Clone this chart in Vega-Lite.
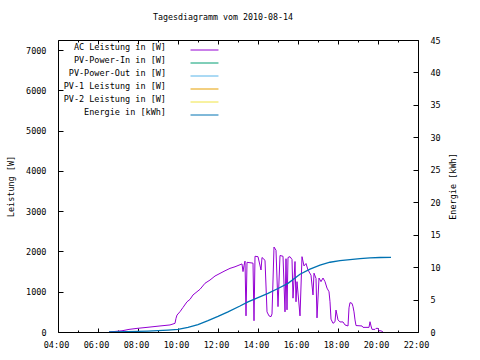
{
  "$schema": "https://vega.github.io/schema/vega-lite/v6.json",
  "width": 360,
  "height": 292,
  "autosize": "none",
  "padding": {"left": 58, "top": 40, "right": 62, "bottom": 28},
  "background": "white",
  "config": {
    "view": {"stroke": "black", "strokeWidth": 1},
    "font": "DejaVu Sans Mono",
    "axis": {"labelFont": "DejaVu Sans Mono", "labelFontSize": 8.5, "labelColor": "black", "titleFont": "DejaVu Sans Mono", "titleFontSize": 8.5, "titleFontWeight": "normal", "titleColor": "black", "ticks": true, "tickColor": "#000000", "tickWidth": 1, "tickOpacity": 1, "zindex": 1, "domain": false, "grid": false, "labelOverlap": false}
  },
  "title": {"text": "Tagesdiagramm vom 2010-08-14", "font": "DejaVu Sans Mono", "fontSize": 8.3, "fontWeight": "normal", "color": "black", "anchor": "middle", "frame": "group", "dx": -15, "offset": 8, "baseline": "alphabetic"},
  "data": {"values": [
    {"zeit": "2010-08-14T06:33", "serie": "AC Leistung in [W]", "wert": 0},
    {"zeit": "2010-08-14T07:12", "serie": "AC Leistung in [W]", "wert": 30},
    {"zeit": "2010-08-14T07:33", "serie": "AC Leistung in [W]", "wert": 65},
    {"zeit": "2010-08-14T07:57", "serie": "AC Leistung in [W]", "wert": 90},
    {"zeit": "2010-08-14T08:27", "serie": "AC Leistung in [W]", "wert": 115},
    {"zeit": "2010-08-14T09:06", "serie": "AC Leistung in [W]", "wert": 150},
    {"zeit": "2010-08-14T09:36", "serie": "AC Leistung in [W]", "wert": 175},
    {"zeit": "2010-08-14T09:51", "serie": "AC Leistung in [W]", "wert": 215},
    {"zeit": "2010-08-14T09:54", "serie": "AC Leistung in [W]", "wert": 340},
    {"zeit": "2010-08-14T09:57", "serie": "AC Leistung in [W]", "wert": 420},
    {"zeit": "2010-08-14T10:06", "serie": "AC Leistung in [W]", "wert": 505},
    {"zeit": "2010-08-14T10:15", "serie": "AC Leistung in [W]", "wert": 610},
    {"zeit": "2010-08-14T10:27", "serie": "AC Leistung in [W]", "wert": 750},
    {"zeit": "2010-08-14T10:36", "serie": "AC Leistung in [W]", "wert": 810},
    {"zeit": "2010-08-14T10:45", "serie": "AC Leistung in [W]", "wert": 920},
    {"zeit": "2010-08-14T10:57", "serie": "AC Leistung in [W]", "wert": 1000},
    {"zeit": "2010-08-14T11:06", "serie": "AC Leistung in [W]", "wert": 1060},
    {"zeit": "2010-08-14T11:21", "serie": "AC Leistung in [W]", "wert": 1210},
    {"zeit": "2010-08-14T11:36", "serie": "AC Leistung in [W]", "wert": 1290},
    {"zeit": "2010-08-14T11:51", "serie": "AC Leistung in [W]", "wert": 1390},
    {"zeit": "2010-08-14T12:06", "serie": "AC Leistung in [W]", "wert": 1455},
    {"zeit": "2010-08-14T12:21", "serie": "AC Leistung in [W]", "wert": 1520},
    {"zeit": "2010-08-14T12:36", "serie": "AC Leistung in [W]", "wert": 1580},
    {"zeit": "2010-08-14T12:51", "serie": "AC Leistung in [W]", "wert": 1620},
    {"zeit": "2010-08-14T13:06", "serie": "AC Leistung in [W]", "wert": 1670},
    {"zeit": "2010-08-14T13:12", "serie": "AC Leistung in [W]", "wert": 1690},
    {"zeit": "2010-08-14T13:15", "serie": "AC Leistung in [W]", "wert": 1500},
    {"zeit": "2010-08-14T13:18", "serie": "AC Leistung in [W]", "wert": 1650},
    {"zeit": "2010-08-14T13:21", "serie": "AC Leistung in [W]", "wert": 1760},
    {"zeit": "2010-08-14T13:24", "serie": "AC Leistung in [W]", "wert": 400},
    {"zeit": "2010-08-14T13:27", "serie": "AC Leistung in [W]", "wert": 1730},
    {"zeit": "2010-08-14T13:36", "serie": "AC Leistung in [W]", "wert": 1720},
    {"zeit": "2010-08-14T13:45", "serie": "AC Leistung in [W]", "wert": 1710},
    {"zeit": "2010-08-14T13:48", "serie": "AC Leistung in [W]", "wert": 280},
    {"zeit": "2010-08-14T13:51", "serie": "AC Leistung in [W]", "wert": 1880},
    {"zeit": "2010-08-14T14:00", "serie": "AC Leistung in [W]", "wert": 1870},
    {"zeit": "2010-08-14T14:09", "serie": "AC Leistung in [W]", "wert": 1540},
    {"zeit": "2010-08-14T14:12", "serie": "AC Leistung in [W]", "wert": 1850},
    {"zeit": "2010-08-14T14:21", "serie": "AC Leistung in [W]", "wert": 1780},
    {"zeit": "2010-08-14T14:27", "serie": "AC Leistung in [W]", "wert": 500},
    {"zeit": "2010-08-14T14:33", "serie": "AC Leistung in [W]", "wert": 400},
    {"zeit": "2010-08-14T14:39", "serie": "AC Leistung in [W]", "wert": 380},
    {"zeit": "2010-08-14T14:42", "serie": "AC Leistung in [W]", "wert": 450},
    {"zeit": "2010-08-14T14:48", "serie": "AC Leistung in [W]", "wert": 2110},
    {"zeit": "2010-08-14T14:54", "serie": "AC Leistung in [W]", "wert": 2030},
    {"zeit": "2010-08-14T15:00", "serie": "AC Leistung in [W]", "wert": 630},
    {"zeit": "2010-08-14T15:06", "serie": "AC Leistung in [W]", "wert": 1900},
    {"zeit": "2010-08-14T15:15", "serie": "AC Leistung in [W]", "wert": 1880},
    {"zeit": "2010-08-14T15:21", "serie": "AC Leistung in [W]", "wert": 500},
    {"zeit": "2010-08-14T15:24", "serie": "AC Leistung in [W]", "wert": 1820},
    {"zeit": "2010-08-14T15:27", "serie": "AC Leistung in [W]", "wert": 550},
    {"zeit": "2010-08-14T15:30", "serie": "AC Leistung in [W]", "wert": 1850},
    {"zeit": "2010-08-14T15:36", "serie": "AC Leistung in [W]", "wert": 1870},
    {"zeit": "2010-08-14T15:42", "serie": "AC Leistung in [W]", "wert": 1800},
    {"zeit": "2010-08-14T15:45", "serie": "AC Leistung in [W]", "wert": 840},
    {"zeit": "2010-08-14T15:51", "serie": "AC Leistung in [W]", "wert": 1750},
    {"zeit": "2010-08-14T15:54", "serie": "AC Leistung in [W]", "wert": 750},
    {"zeit": "2010-08-14T15:57", "serie": "AC Leistung in [W]", "wert": 1250},
    {"zeit": "2010-08-14T16:06", "serie": "AC Leistung in [W]", "wert": 400},
    {"zeit": "2010-08-14T16:12", "serie": "AC Leistung in [W]", "wert": 1870},
    {"zeit": "2010-08-14T16:18", "serie": "AC Leistung in [W]", "wert": 1640},
    {"zeit": "2010-08-14T16:24", "serie": "AC Leistung in [W]", "wert": 1700},
    {"zeit": "2010-08-14T16:30", "serie": "AC Leistung in [W]", "wert": 1540},
    {"zeit": "2010-08-14T16:39", "serie": "AC Leistung in [W]", "wert": 1410},
    {"zeit": "2010-08-14T16:45", "serie": "AC Leistung in [W]", "wert": 920},
    {"zeit": "2010-08-14T16:48", "serie": "AC Leistung in [W]", "wert": 1460},
    {"zeit": "2010-08-14T16:54", "serie": "AC Leistung in [W]", "wert": 1330},
    {"zeit": "2010-08-14T16:57", "serie": "AC Leistung in [W]", "wert": 350},
    {"zeit": "2010-08-14T17:03", "serie": "AC Leistung in [W]", "wert": 1340},
    {"zeit": "2010-08-14T17:09", "serie": "AC Leistung in [W]", "wert": 1250},
    {"zeit": "2010-08-14T17:15", "serie": "AC Leistung in [W]", "wert": 1340},
    {"zeit": "2010-08-14T17:21", "serie": "AC Leistung in [W]", "wert": 1250},
    {"zeit": "2010-08-14T17:27", "serie": "AC Leistung in [W]", "wert": 1090},
    {"zeit": "2010-08-14T17:33", "serie": "AC Leistung in [W]", "wert": 1000},
    {"zeit": "2010-08-14T17:36", "serie": "AC Leistung in [W]", "wert": 750},
    {"zeit": "2010-08-14T17:39", "serie": "AC Leistung in [W]", "wert": 320},
    {"zeit": "2010-08-14T17:45", "serie": "AC Leistung in [W]", "wert": 215},
    {"zeit": "2010-08-14T17:51", "serie": "AC Leistung in [W]", "wert": 255},
    {"zeit": "2010-08-14T17:54", "serie": "AC Leistung in [W]", "wert": 545},
    {"zeit": "2010-08-14T18:00", "serie": "AC Leistung in [W]", "wert": 300},
    {"zeit": "2010-08-14T18:06", "serie": "AC Leistung in [W]", "wert": 250},
    {"zeit": "2010-08-14T18:15", "serie": "AC Leistung in [W]", "wert": 250},
    {"zeit": "2010-08-14T18:21", "serie": "AC Leistung in [W]", "wert": 175},
    {"zeit": "2010-08-14T18:30", "serie": "AC Leistung in [W]", "wert": 150},
    {"zeit": "2010-08-14T18:33", "serie": "AC Leistung in [W]", "wert": 600},
    {"zeit": "2010-08-14T18:36", "serie": "AC Leistung in [W]", "wert": 730},
    {"zeit": "2010-08-14T18:42", "serie": "AC Leistung in [W]", "wert": 710},
    {"zeit": "2010-08-14T18:45", "serie": "AC Leistung in [W]", "wert": 630},
    {"zeit": "2010-08-14T18:48", "serie": "AC Leistung in [W]", "wert": 500},
    {"zeit": "2010-08-14T18:51", "serie": "AC Leistung in [W]", "wert": 300},
    {"zeit": "2010-08-14T18:54", "serie": "AC Leistung in [W]", "wert": 160},
    {"zeit": "2010-08-14T19:12", "serie": "AC Leistung in [W]", "wert": 150},
    {"zeit": "2010-08-14T19:15", "serie": "AC Leistung in [W]", "wert": 115},
    {"zeit": "2010-08-14T19:33", "serie": "AC Leistung in [W]", "wert": 115},
    {"zeit": "2010-08-14T19:36", "serie": "AC Leistung in [W]", "wert": 255},
    {"zeit": "2010-08-14T19:39", "serie": "AC Leistung in [W]", "wert": 150},
    {"zeit": "2010-08-14T19:42", "serie": "AC Leistung in [W]", "wert": 65},
    {"zeit": "2010-08-14T19:51", "serie": "AC Leistung in [W]", "wert": 65},
    {"zeit": "2010-08-14T19:54", "serie": "AC Leistung in [W]", "wert": 90},
    {"zeit": "2010-08-14T20:00", "serie": "AC Leistung in [W]", "wert": 90},
    {"zeit": "2010-08-14T20:03", "serie": "AC Leistung in [W]", "wert": 30},
    {"zeit": "2010-08-14T20:09", "serie": "AC Leistung in [W]", "wert": 30},
    {"zeit": "2010-08-14T20:15", "serie": "AC Leistung in [W]", "wert": 0},
    {"zeit": "2010-08-14T06:33", "serie": "Energie in [kWh]", "wert": 0},
    {"zeit": "2010-08-14T07:30", "serie": "Energie in [kWh]", "wert": 0.05},
    {"zeit": "2010-08-14T08:30", "serie": "Energie in [kWh]", "wert": 0.15},
    {"zeit": "2010-08-14T09:30", "serie": "Energie in [kWh]", "wert": 0.3},
    {"zeit": "2010-08-14T10:00", "serie": "Energie in [kWh]", "wert": 0.4},
    {"zeit": "2010-08-14T10:30", "serie": "Energie in [kWh]", "wert": 0.7},
    {"zeit": "2010-08-14T11:00", "serie": "Energie in [kWh]", "wert": 1.15},
    {"zeit": "2010-08-14T11:30", "serie": "Energie in [kWh]", "wert": 1.75},
    {"zeit": "2010-08-14T12:00", "serie": "Energie in [kWh]", "wert": 2.4},
    {"zeit": "2010-08-14T12:30", "serie": "Energie in [kWh]", "wert": 3.1},
    {"zeit": "2010-08-14T13:06", "serie": "Energie in [kWh]", "wert": 4.0},
    {"zeit": "2010-08-14T13:30", "serie": "Energie in [kWh]", "wert": 4.65},
    {"zeit": "2010-08-14T14:00", "serie": "Energie in [kWh]", "wert": 5.3},
    {"zeit": "2010-08-14T14:30", "serie": "Energie in [kWh]", "wert": 5.95},
    {"zeit": "2010-08-14T15:00", "serie": "Energie in [kWh]", "wert": 6.7},
    {"zeit": "2010-08-14T15:30", "serie": "Energie in [kWh]", "wert": 7.5},
    {"zeit": "2010-08-14T16:06", "serie": "Energie in [kWh]", "wert": 8.9},
    {"zeit": "2010-08-14T16:36", "serie": "Energie in [kWh]", "wert": 9.7},
    {"zeit": "2010-08-14T17:06", "serie": "Energie in [kWh]", "wert": 10.3},
    {"zeit": "2010-08-14T17:36", "serie": "Energie in [kWh]", "wert": 10.75},
    {"zeit": "2010-08-14T18:06", "serie": "Energie in [kWh]", "wert": 11.0},
    {"zeit": "2010-08-14T18:36", "serie": "Energie in [kWh]", "wert": 11.15},
    {"zeit": "2010-08-14T19:06", "serie": "Energie in [kWh]", "wert": 11.3},
    {"zeit": "2010-08-14T19:36", "serie": "Energie in [kWh]", "wert": 11.42},
    {"zeit": "2010-08-14T20:06", "serie": "Energie in [kWh]", "wert": 11.48},
    {"zeit": "2010-08-14T20:39", "serie": "Energie in [kWh]", "wert": 11.5}
  ]},
  "layer": [
    {
      "transform": [{"filter": "datum.serie === 'AC Leistung in [W]'"}],
      "mark": {"type": "line", "strokeWidth": 1, "clip": true},
      "encoding": {
        "x": {"field": "zeit", "type": "temporal",
          "scale": {"domain": ["2010-08-14T04:00", "2010-08-14T22:00"]},
          "axis": {"title": null, "orient": "bottom",
            "values": ["2010-08-14T04:00", "2010-08-14T05:00", "2010-08-14T06:00", "2010-08-14T07:00", "2010-08-14T08:00", "2010-08-14T09:00", "2010-08-14T10:00", "2010-08-14T11:00", "2010-08-14T12:00", "2010-08-14T13:00", "2010-08-14T14:00", "2010-08-14T15:00", "2010-08-14T16:00", "2010-08-14T17:00", "2010-08-14T18:00", "2010-08-14T19:00", "2010-08-14T20:00", "2010-08-14T21:00", "2010-08-14T22:00"],
            "labelExpr": "hours(datum.value) % 2 == 0 ? timeFormat(datum.value, '%H:%M') : ''",
            "tickSize": {"condition": {"test": "hours(datum.value) % 2 == 1", "value": -2}, "value": -4},
            "labelPadding": 12, "labelFlush": false, "labelOffset": -2}},
        "y": {"field": "wert", "type": "quantitative",
          "scale": {"domain": [0, 7250], "nice": false},
          "axis": {"title": "Leistung [W]", "format": "d", "values": [0, 1000, 2000, 3000, 4000, 5000, 6000, 7000], "tickSize": -5, "labelPadding": 17, "titleAngle": 270, "titleX": -48, "titleY": 146, "titleBaseline": "middle", "titleAlign": "center"}},
        "color": {"field": "serie", "type": "nominal",
          "scale": {"domain": ["AC Leistung in [W]", "PV-Power-In in [W]", "PV-Power-Out in [W]", "PV-1 Leistung in [W]", "PV-2 Leistung in [W]", "Energie in [kWh]"],
                    "range": ["#9400d3", "#009e73", "#56b4e9", "#e69f00", "#f0e442", "#0072b2"]},
          "legend": {"title": null, "orient": "none", "legendX": 139.5, "legendY": 3, "symbolType": "M-2.15,0H2.15", "symbolSize": 169, "symbolStrokeWidth": 1, "rowPadding": 4, "padding": 0, "labelAlign": "right", "labelOffset": -45.5, "labelBaseline": "alphabetic", "labelFont": "DejaVu Sans Mono", "labelFontSize": 8.5, "labelColor": "black", "labelLimit": 300}}
      }
    },
    {
      "transform": [{"filter": "datum.serie === 'Energie in [kWh]'"}],
      "mark": {"type": "line", "strokeWidth": 1.3, "clip": true},
      "encoding": {
        "x": {"field": "zeit", "type": "temporal",
          "axis": {"title": null, "orient": "top",
            "values": ["2010-08-14T04:00", "2010-08-14T05:00", "2010-08-14T06:00", "2010-08-14T07:00", "2010-08-14T08:00", "2010-08-14T09:00", "2010-08-14T10:00", "2010-08-14T11:00", "2010-08-14T12:00", "2010-08-14T13:00", "2010-08-14T14:00", "2010-08-14T15:00", "2010-08-14T16:00", "2010-08-14T17:00", "2010-08-14T18:00", "2010-08-14T19:00", "2010-08-14T20:00", "2010-08-14T21:00", "2010-08-14T22:00"],
            "labels": false,
            "tickSize": {"condition": {"test": "hours(datum.value) % 2 == 1", "value": -2}, "value": -4}}},
        "y": {"field": "wert", "type": "quantitative",
          "scale": {"domain": [0, 45], "nice": false},
          "axis": {"title": "Energie [kWh]", "orient": "right", "values": [0, 5, 10, 15, 20, 25, 30, 35, 40, 45], "tickSize": -5, "labelPadding": 17, "titleAngle": 270, "titleX": 34, "titleY": 146, "titleBaseline": "middle", "titleAlign": "center"}},
        "color": {"field": "serie", "type": "nominal"}
      }
    }
  ],
  "resolve": {"scale": {"y": "independent"}, "axis": {"x": "independent"}}
}
